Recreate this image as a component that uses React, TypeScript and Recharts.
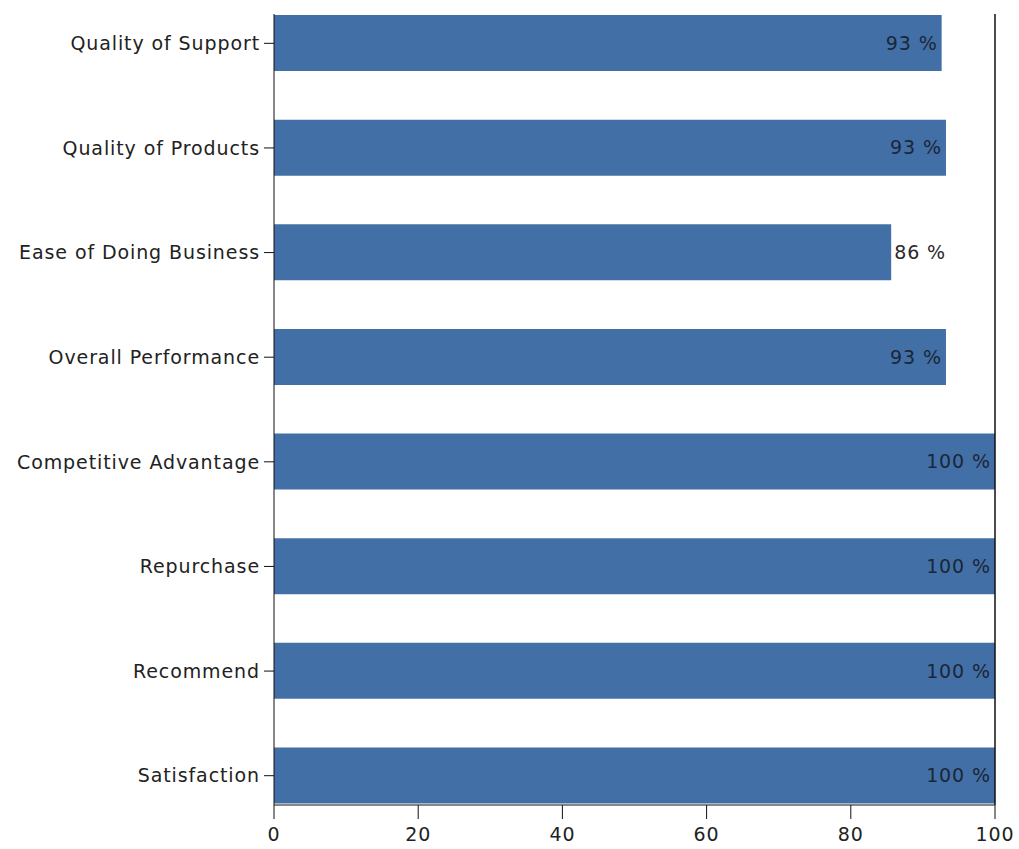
import React from 'react';
import { BarChart, Bar, XAxis, YAxis, ReferenceLine, LabelList } from 'recharts';

const categories = [
  'Quality of Support',
  'Quality of Products',
  'Ease of Doing Business',
  'Overall Performance',
  'Competitive Advantage',
  'Repurchase',
  'Recommend',
  'Satisfaction',
];
const scores = [92.6, 93.2, 85.6, 93.2, 100, 100, 100, 100];
const xTicks = [0, 20, 40, 60, 80, 100];

const data = categories.map((name, i) => ({ name, score: scores[i] }));

const FONT = '"DejaVu Sans", Verdana, sans-serif';
const textStyle = { fontFamily: FONT, fontSize: 19, letterSpacing: 0.9 };

// labels sit inside the bar end, short bars get them just outside
const ValueLabel = (props: any) => {
  const { x, y, width, height, value } = props;
  const inside = value >= 90;
  const tx = inside ? x + width - 4 : x + width + 3;
  return (
    <text
      x={tx}
      y={y + height / 2}
      dy="0.36em"
      textAnchor={inside ? 'end' : 'start'}
      fill={inside ? '#1b2638' : '#2a2a2a'}
      style={textStyle}
    >
      {Math.round(value)} %
    </text>
  );
};

export default function App() {
  return (
    <div style={{ position: 'absolute', left: 0, top: 0 }}>
      <BarChart
        width={1019}
        height={849}
        data={data}
        layout="vertical"
        margin={{ top: 14, right: 24, bottom: 0, left: 8 }}
      >
        <XAxis
          type="number"
          domain={[0, 100]}
          ticks={xTicks}
          height={44}
          tickSize={14}
          tickMargin={9}
          stroke="#111"
          tick={{ fill: '#222', ...textStyle }}
          interval={0}
        />
        <YAxis
          type="category"
          dataKey="name"
          width={266}
          tickSize={10}
          tickMargin={4}
          stroke="#111"
          tick={{ fill: '#222', ...textStyle }}
          padding={{ top: -23, bottom: -23 }}
          interval={0}
        />
        <ReferenceLine x={100} stroke="#111" strokeWidth={1.5} ifOverflow="visible" />
        <Bar dataKey="score" fill="#4270a6" barSize={56} isAnimationActive={false}>
          <LabelList dataKey="score" content={ValueLabel} />
        </Bar>
      </BarChart>
    </div>
  );
}
